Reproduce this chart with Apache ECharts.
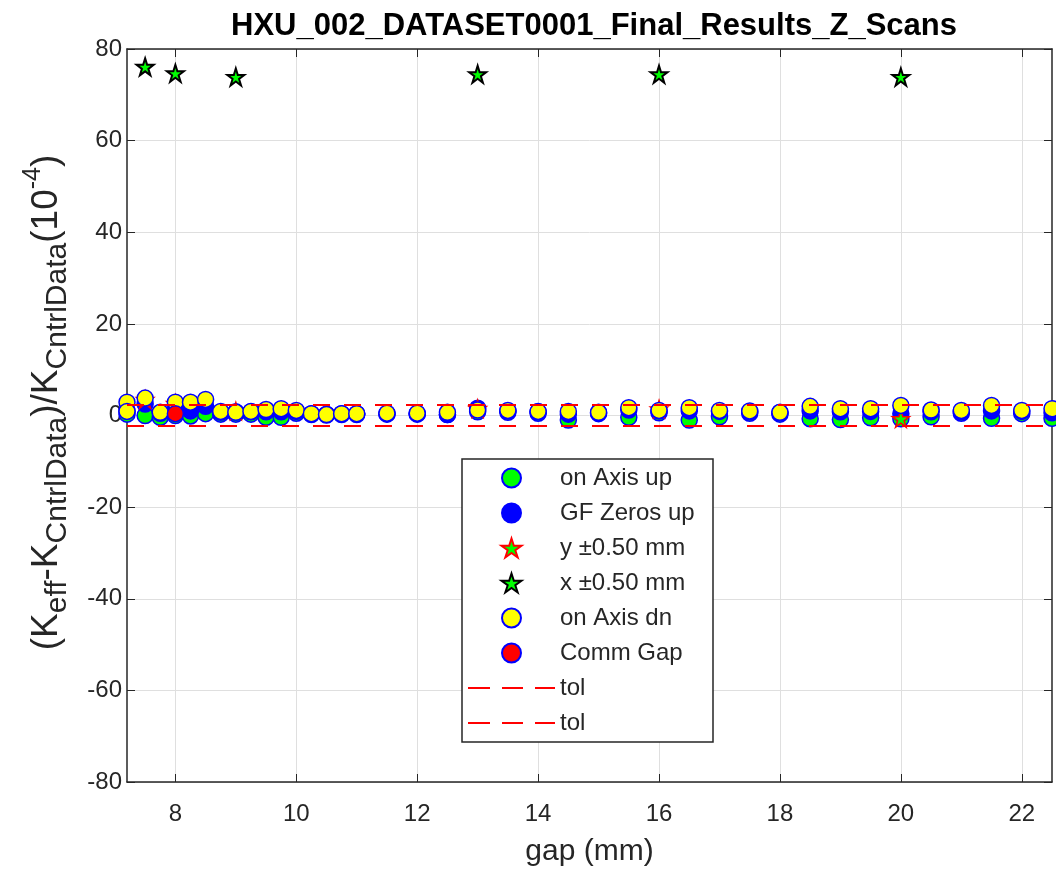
<!DOCTYPE html>
<html><head><meta charset="utf-8">
<script src="https://cdn.jsdelivr.net/npm/echarts@6/dist/echarts.min.js"></script>
<style>html,body{margin:0;padding:0;background:#fff}#c{width:1056px;height:874px}</style>
</head><body><div id="c"></div>
<script>
// ---- data ----
const gapX = [7.2, 7.5, 7.75, 8, 8.25, 8.5, 8.75, 9, 9.25, 9.5, 9.75, 10, 10.25, 10.5, 10.75, 11, 11.5, 12, 12.5, 13, 13.5, 14, 14.5, 15, 15.5, 16, 16.5, 17, 17.5, 18, 18.5, 19, 19.5, 20, 20.5, 21, 21.5, 22, 22.5];
const onAxisUp = [0.3, 0.0, -0.4, 0.0, -0.1, 0.4, 0.3, 0.3, 0.3, -0.4, -0.4, 0.5, 0.2, 0.1, 0.2, 0.2, 0.3, 0.3, 0.2, 0.8, 0.7, 0.5, -1.0, 0.4, -0.4, 0.6, -1.0, -0.3, 0.5, 0.3, -0.7, -0.9, -0.5, -0.7, -0.3, 0.5, -0.6, 0.4, -0.6];
const gfZerosUp = [1.0, 2.5, 0.5, 1.5, 1.0, 2.0, 0.7, 0.8, 0.8, 0.8, 0.8, 0.9, 0.4, 0.3, 0.4, 0.4, 0.4, 0.4, 0.2, 1.6, 1.0, 0.8, 0.3, 0.6, 1.2, 1.0, 1.0, 0.9, 0.8, 0.6, 1.0, 0.8, 0.9, 0.4, 0.8, 0.8, 1.0, 0.9, 0.6];
const dnGap = [7.2, 7.2, 7.5, 7.75, 8, 8.25, 8.5, 8.75, 9, 9.25, 9.5, 9.75, 10, 10.25, 10.5, 10.75, 11, 11.5, 12, 12.5, 13, 13.5, 14, 14.5, 15, 15.5, 16, 16.5, 17, 17.5, 18, 18.5, 19, 19.5, 20, 20.5, 21, 21.5, 22, 22.5];
const onAxisDn = [2.9, 0.9, 3.8, 0.7, 2.9, 2.9, 3.5, 0.9, 0.7, 0.9, 1.3, 1.5, 1.1, 0.4, 0.2, 0.4, 0.4, 0.5, 0.5, 0.7, 1.2, 1.1, 0.9, 0.9, 0.7, 1.7, 1.1, 1.7, 1.1, 1.0, 0.7, 2.0, 1.5, 1.5, 2.2, 1.2, 1.1, 2.2, 1.1, 1.5];
const starGap = [7.5, 8, 9, 13, 16, 20];
const yPlusMinus = [3.5, 2.6, 1.0, 1.5, 1.4, -0.7];
const xPlusMinus = [76.1, 74.7, 73.9, 74.5, 74.5, 73.9];
const commGapX = [8];
const commGapY = [0.4];
const tolGap = [7.2, 22.5];
const tolUpper = [2.3, 2.3];
const tolLower = [-2.3, -2.3];
const xTicks = [8, 10, 12, 14, 16, 18, 20, 22];
const yTicks = [-80, -60, -40, -20, 0, 20, 40, 60, 80];

// ---- styling ----
const FONT = 'Liberation Sans';
const AX = '#262626';
const GRID = '#dfdfdf';
const STAR = 'path://M100 0 L122.45 69.1 L195.1 69.1 L136.3 111.8 L158.8 180.9 L100 138.2 L41.2 180.9 L63.7 111.8 L4.9 69.1 L77.55 69.1 Z';
const DASH_ICON = 'path://M0 0H22V2H0Z M34 0H55V2H34Z M67 0H87V2H67Z';
const pairs = (xs, ys) => xs.map((x, i) => [x, ys[i]]);

const circle = (name, xs, ys, fill) => ({
  type: 'scatter', name, data: pairs(xs, ys), symbol: 'circle', symbolSize: 16,
  itemStyle: { color: fill, borderColor: '#0000ff', borderWidth: 1.5, opacity: 1 },
  emphasis: { disabled: true }
});
const star = (name, xs, ys, edge, bw) => ({
  type: 'scatter', name, data: pairs(xs, ys), symbol: STAR, symbolSize: 17,
  itemStyle: { color: '#00ff00', borderColor: edge, borderWidth: bw, opacity: 1 },
  emphasis: { disabled: true }
});
const tol = (name, ys) => ({
  type: 'line', name, data: pairs(tolGap, ys), symbol: 'none',
  lineStyle: { color: '#ff0000', width: 2, type: [17, 14] },
  itemStyle: { color: '#ff0000' }, emphasis: { disabled: true }
});

const richName = {
  m: { fontFamily: FONT, fontSize: 37, color: AX, lineHeight: 52, verticalAlign: 'middle' },
  s: { fontFamily: FONT, fontSize: 30, color: AX, lineHeight: 30, verticalAlign: 'bottom' },
  p: { fontFamily: FONT, fontSize: 25, color: AX, lineHeight: 25, verticalAlign: 'top' }
};

const chart = echarts.init(document.getElementById('c'), null, { renderer: 'canvas' });
chart.setOption({
  animation: false,
  backgroundColor: '#fff',
  title: {
    text: 'HXU_002_DATASET0001_Final_Results_Z_Scans',
    left: 589, top: 6, textAlign: 'center',
    textStyle: { fontFamily: FONT, fontWeight: 'bold', fontSize: 31, color: '#000' }
  },
  grid: { left: 127, right: 4, top: 49, bottom: 92, containLabel: false },
  xAxis: [{
    type: 'value', min: 7.2, max: 22.5, position: 'bottom',
    name: 'gap (mm)', nameLocation: 'middle', nameGap: 55,
    nameTextStyle: { fontFamily: FONT, fontSize: 30, color: AX },
    axisLine: { show: true, onZero: false, lineStyle: { color: AX, width: 1.5 } },
    axisTick: { show: true, inside: true, length: 8, customValues: xTicks, lineStyle: { color: AX } },
    axisLabel: { customValues: xTicks, fontFamily: FONT, fontSize: 24, color: AX, margin: 20 },
    splitLine: { show: true, lineStyle: { color: GRID, width: 1 } }
  }, {
    type: 'value', min: 7.2, max: 22.5, position: 'top',
    axisLine: { show: true, onZero: false, lineStyle: { color: AX, width: 1.5 } },
    axisTick: { show: true, inside: true, length: 8, customValues: xTicks, lineStyle: { color: AX } },
    axisLabel: { show: false }, splitLine: { show: false }
  }],
  yAxis: [{
    type: 'value', min: yTicks[0], max: yTicks[yTicks.length - 1], interval: 20,
    name: '{m|(K}{s|eff}{m|-K}{s|CntrlData}{m|)/K}{s|CntrlData}{m|(10}{p|-4}{m|)}',
    nameLocation: 'middle', nameRotate: 90, nameGap: 54,
    nameTextStyle: { rich: richName, padding: [0, 0, 0, 26] },
    axisLine: { show: true, onZero: false, lineStyle: { color: AX, width: 1.5 } },
    axisTick: { show: true, inside: true, length: 8, lineStyle: { color: AX } },
    axisLabel: { fontFamily: FONT, fontSize: 24, color: AX, margin: 5 },
    splitLine: { show: true, lineStyle: { color: GRID, width: 1 } }
  }, {
    type: 'value', min: yTicks[0], max: yTicks[yTicks.length - 1], interval: 20, position: 'right',
    axisLine: { show: true, onZero: false, lineStyle: { color: AX, width: 1.5 } },
    axisTick: { show: true, inside: true, length: 8, lineStyle: { color: AX } },
    axisLabel: { show: false }, splitLine: { show: false }
  }],
  legend: {
    orient: 'vertical', left: 462, top: 459, padding: [7, 11, 7, 6],
    itemWidth: 87, itemHeight: 19, itemGap: 11,
    backgroundColor: '#fff', borderColor: AX, borderWidth: 1.5,
    selectedMode: false,
    textStyle: { fontFamily: FONT, fontSize: 24, color: AX, lineHeight: 22, width: 142 },
    data: ['on Axis up', 'GF Zeros up', 'y \u00b10.50 mm', 'x \u00b10.50 mm', 'on Axis dn', 'Comm Gap',
      { name: 'tol', icon: DASH_ICON }, { name: 'tol ', icon: DASH_ICON }]
  },
  series: [
    circle('on Axis up', gapX, onAxisUp, '#00ff00'),
    circle('GF Zeros up', gapX, gfZerosUp, '#0000ff'),
    star('y \u00b10.50 mm', starGap, yPlusMinus, '#ff0000', 1.5),
    star('x \u00b10.50 mm', starGap, xPlusMinus, '#000000', 2),
    circle('on Axis dn', dnGap, onAxisDn, '#ffff00'),
    circle('Comm Gap', commGapX, commGapY, '#ff0000'),
    tol('tol', tolUpper),
    tol('tol ', tolLower)
  ]
});
</script></body></html>
